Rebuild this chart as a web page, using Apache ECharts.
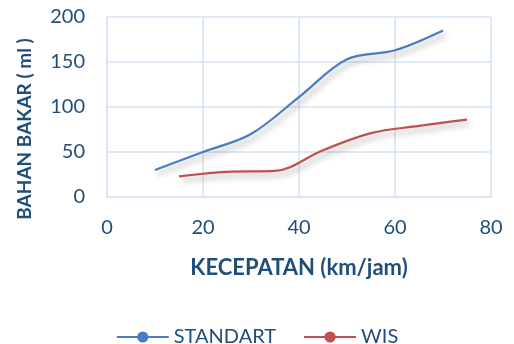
<!DOCTYPE html>
<html>
<head>
<meta charset="utf-8">
<script src="https://cdn.jsdelivr.net/npm/echarts@6/dist/echarts.min.js"></script>
<style>
  html, body { margin: 0; padding: 0; background: #fff; }
  #chart { width: 514px; height: 344px; }
</style>
</head>
<body>
<div id="chart"></div>
<script>
// Fuel consumption vs. speed for the standard and WIS configurations
const standartSpeed = [10, 20, 30, 40, 50, 60, 70];
const standartFuel = [30, 50, 70, 111, 153, 163, 185];
const wisSpeed = [15, 25, 35, 45, 55, 65, 75];
const wisFuel = [23, 28, 29, 52, 71, 79, 86];
const xTicks = [0, 20, 40, 60, 80];
const yTicks = [0, 50, 100, 150, 200];

const textColor = '#1F4E79';
const gridColor = '#D6E3F3';
const fontFam = 'Lato, "Open Sans", sans-serif';
const lineShadow = { shadowColor: 'rgba(0,0,0,0.35)', shadowBlur: 6, shadowOffsetX: 3, shadowOffsetY: 4 };

const chart = echarts.init(document.getElementById('chart'));
chart.setOption({
  animation: false,
  grid: { left: 107, right: 23, top: 17, bottom: 147 },
  xAxis: {
    type: 'value',
    min: xTicks[0], max: xTicks[xTicks.length - 1], interval: xTicks[1] - xTicks[0],
    name: 'KECEPATAN (km/jam)',
    nameLocation: 'middle',
    nameGap: 60,
    nameTextStyle: { color: textColor, fontSize: 22, fontWeight: 'bold', fontFamily: fontFam },
    axisLine: { show: true, lineStyle: { color: gridColor, width: 1.5 } },
    axisTick: { show: false },
    axisLabel: { color: textColor, fontSize: 20, fontFamily: fontFam, margin: 21 },
    splitLine: { show: true, lineStyle: { color: gridColor, width: 1.5 } }
  },
  yAxis: {
    type: 'value',
    min: yTicks[0], max: yTicks[yTicks.length - 1], interval: yTicks[1] - yTicks[0],
    name: 'BAHAN BAKAR ( ml )',
    nameLocation: 'middle',
    nameGap: 73,
    nameTextStyle: { color: textColor, fontSize: 19, fontWeight: 'bold', fontFamily: fontFam, padding: [0, 44, 0, 0] },
    axisLine: { show: true, lineStyle: { color: gridColor, width: 1.5 } },
    axisTick: { show: false },
    axisLabel: { color: textColor, fontSize: 20, fontFamily: fontFam, margin: 22 },
    splitLine: { show: true, lineStyle: { color: gridColor, width: 1.5 } }
  },
  legend: {
    top: 322,
    left: 'center',
    itemWidth: 52,
    itemHeight: 14,
    itemGap: 27,
    textStyle: { color: textColor, fontSize: 20, fontFamily: fontFam },
    data: ['STANDART', 'WIS']
  },
  series: [
    {
      name: 'STANDART',
      type: 'line',
      smooth: 0.35,
      symbol: 'circle',
      symbolSize: 13,
      showSymbol: false,
      color: '#4A7DC0',
      lineStyle: Object.assign({ width: 2.2 }, lineShadow),
      data: standartSpeed.map((s, i) => [s, standartFuel[i]])
    },
    {
      name: 'WIS',
      type: 'line',
      smooth: 0.35,
      symbol: 'circle',
      symbolSize: 13,
      showSymbol: false,
      color: '#C0504D',
      lineStyle: Object.assign({ width: 2.2 }, lineShadow),
      data: wisSpeed.map((s, i) => [s, wisFuel[i]])
    }
  ]
});
</script>
</body>
</html>
